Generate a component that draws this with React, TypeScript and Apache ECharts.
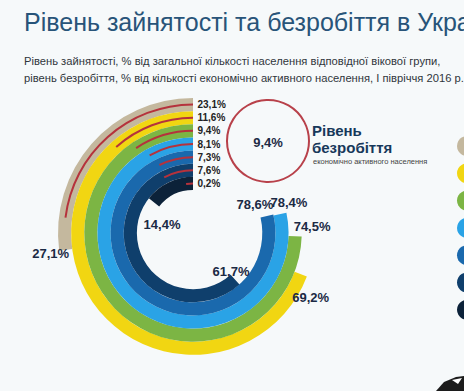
import React, { useEffect, useRef } from "react";
import * as echarts from "echarts";

const AGE_GROUPS = ["15-24", "25-29", "30-34", "35-39", "40-49", "50-59", "60-70"];
const EMPLOYMENT = [27.1, 69.2, 74.5, 78.4, 78.6, 61.7, 14.4];
const UNEMPLOYMENT = [23.1, 11.6, 9.4, 8.1, 7.3, 7.6, 0.2];
const TOTAL_UNEMPLOYMENT = 9.4;

const TITLE = "Рівень зайнятості та безробіття в Україні";
const SUBTITLE_1 = "Рівень зайнятості, % від загальної кількості населення відповідної вікової групи,";
const SUBTITLE_2 = "рівень безробіття, % від кількості економічно активного населення, І півріччя 2016 р.";

const COLORS = ["#c4b89e", "#f1d612", "#7cb544", "#2aa3e6", "#1a69ad", "#0f3f6c", "#0c2239"];
const RED = "#b5323c";
const LABEL_OFFSETS = [
  [-15, 4],
  [10, 24],
  [17, -9],
  [9, -11],
  [-12, -11],
  [-4, -8],
  [8, 23],
];

const fmt = (v: number) => v.toFixed(1).replace(".", ",") + "%";
const FONT = "'Liberation Sans', Arial, sans-serif";

export default function App() {
  const ref = useRef<HTMLDivElement>(null);
  useEffect(() => {
    if (!ref.current) return;
    const chart = echarts.init(ref.current, undefined, { renderer: "svg" });
    const center = [193, 233];
    const radius = [43, 135];
    const hiddenAngle = (polarIndex: number) => ({
      polarIndex,
      type: "value",
      min: 0,
      max: 100,
      startAngle: 90,
      clockwise: false,
      show: false,
      axisLine: { show: false },
      axisTick: { show: false },
      axisLabel: { show: false },
      splitLine: { show: false },
    });
    const hiddenRadius = (polarIndex: number) => ({
      polarIndex,
      type: "category",
      data: AGE_GROUPS,
      inverse: true,
      show: false,
      axisLine: { show: false },
      axisTick: { show: false },
      axisLabel: { show: false },
      splitLine: { show: false },
    });
    const legendGraphics = COLORS.map((c, i) => ({
      type: "circle",
      shape: { cx: 467, cy: 146 + i * 27.3, r: 10 },
      style: { fill: c },
    }));
    chart.setOption({
      animation: false,
      backgroundColor: "#f6f9fa",
      polar: [
        { center, radius },
        { center, radius },
      ],
      angleAxis: [hiddenAngle(0), hiddenAngle(1)],
      radiusAxis: [hiddenRadius(0), hiddenRadius(1)],
      series: [
        {
          type: "bar",
          coordinateSystem: "polar",
          polarIndex: 0,
          barCategoryGap: "0%",
          data: EMPLOYMENT.map((v, i) => ({ value: v, itemStyle: { color: COLORS[i] } })),
        },
        {
          type: "bar",
          coordinateSystem: "polar",
          polarIndex: 1,
          barWidth: 2,
          barMinAngle: 8,
          itemStyle: { color: RED },
          data: UNEMPLOYMENT,
        },
        {
          type: "scatter",
          coordinateSystem: "polar",
          polarIndex: 0,
          symbolSize: 1,
          itemStyle: { color: "#f6f9fa", opacity: 0 },
          label: {
            show: true,
            position: "top",
            distance: 0,
            align: "center",
            verticalAlign: "middle",
            color: "#1b2a44",
            opacity: 1,
            textBorderWidth: 0,
            fontFamily: FONT,
            fontWeight: "bold",
            fontSize: 13,
            formatter: (p: any) => fmt(p.value[1]),
          },
          data: EMPLOYMENT.map((v, i) => ({ value: [i, v], label: { offset: LABEL_OFFSETS[i] } })),
        },
        {
          type: "scatter",
          coordinateSystem: "polar",
          polarIndex: 1,
          symbolSize: 1,
          itemStyle: { color: "#f6f9fa", opacity: 0 },
          label: {
            show: true,
            position: "right",
            distance: 4,
            color: "#222222",
            opacity: 1,
            textBorderWidth: 0,
            fontFamily: FONT,
            fontWeight: "bold",
            fontSize: 10,
            formatter: (p: any) => fmt(UNEMPLOYMENT[p.dataIndex]),
          },
          data: UNEMPLOYMENT.map((_, i) => [i, 0]),
        },
      ],
      graphic: [
        {
          type: "text",
          x: 24,
          y: 22,
          style: { text: TITLE, fill: "#285479", font: `25px ${FONT}`, verticalAlign: "middle" },
        },
        {
          type: "text",
          x: 24,
          y: 61,
          style: { text: SUBTITLE_1, fill: "#30363c", font: `11.2px ${FONT}`, verticalAlign: "middle" },
        },
        {
          type: "text",
          x: 24,
          y: 78,
          style: { text: SUBTITLE_2, fill: "#30363c", font: `11.2px ${FONT}`, verticalAlign: "middle" },
        },
        {
          type: "circle",
          shape: { cx: 268, cy: 141, r: 41 },
          style: { fill: "none", stroke: "#b8414a", lineWidth: 2 },
        },
        {
          type: "text",
          x: 268,
          y: 142,
          style: {
            text: fmt(TOTAL_UNEMPLOYMENT),
            fill: "#1d2b45",
            font: `bold 13px ${FONT}`,
            align: "center",
            verticalAlign: "middle",
          },
        },
        {
          type: "text",
          x: 312,
          y: 130,
          style: { text: "Рівень", fill: "#17385a", font: `bold 15px ${FONT}`, verticalAlign: "middle" },
        },
        {
          type: "text",
          x: 312,
          y: 147,
          style: { text: "безробіття", fill: "#17385a", font: `bold 15px ${FONT}`, verticalAlign: "middle" },
        },
        {
          type: "text",
          x: 313,
          y: 161,
          style: {
            text: "економічно активного населення",
            fill: "#444",
            font: `7.5px ${FONT}`,
            verticalAlign: "middle",
          },
        },
        ...legendGraphics,
        {
          type: "polygon",
          shape: { points: [[436, 391], [444, 382], [456, 377], [464, 376], [464, 391]] },
          style: { fill: "#1c1c1c" },
        },
        {
          type: "polygon",
          shape: { points: [[452, 380], [462, 378], [458, 384]] },
          style: { fill: "#ffffff" },
        },
      ],
    });
    return () => chart.dispose();
  }, []);
  return (
    <div
      ref={ref}
      style={{ position: "fixed", left: 0, top: 0, width: 464, height: 391 }}
    />
  );
}
